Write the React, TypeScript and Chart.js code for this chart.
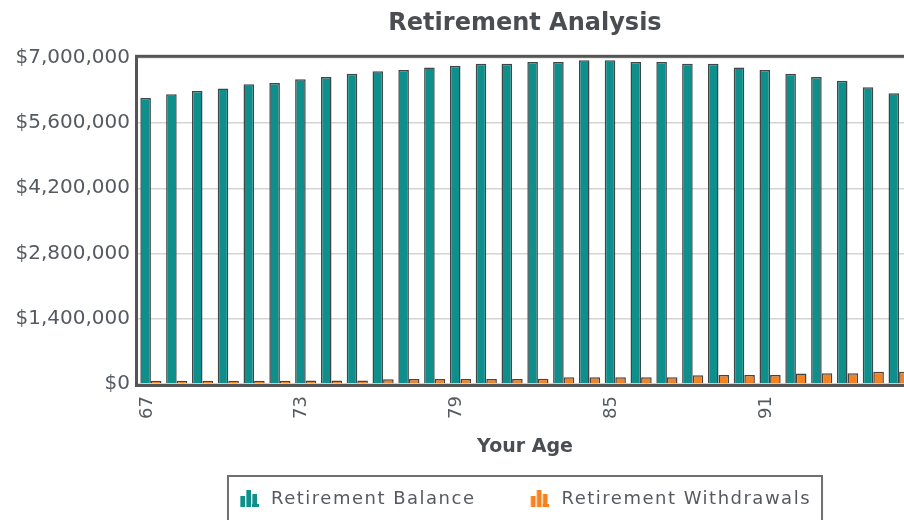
import React, { useEffect, useRef } from "react";
import { Chart, registerables } from "chart.js";

Chart.register(...registerables);

const ages: number[] = [67, 68, 69, 70, 71, 72, 73, 74, 75, 76, 77, 78, 79, 80, 81, 82, 83, 84, 85, 86, 87, 88, 89, 90, 91, 92, 93, 94, 95, 96];

const retirementBalance: number[] = [
  6140000, 6220000, 6290000, 6340000, 6430000, 6460000, 6540000, 6590000, 6660000, 6710000,
  6740000, 6790000, 6830000, 6870000, 6870000, 6910000, 6910000, 6950000, 6950000, 6910000,
  6910000, 6870000, 6870000, 6790000, 6740000, 6660000, 6590000, 6510000, 6370000, 6240000,
];

const retirementWithdrawals: number[] = [
  70000, 70000, 71000, 71000, 72000, 72000, 73000, 73000, 74000, 104000,
  105000, 106000, 107000, 108000, 109000, 110000, 143000, 144000, 145000, 146000,
  147000, 190000, 191000, 192000, 193000, 228000, 229000, 230000, 262000, 264000,
];

const yTicks: number[] = [0, 1400000, 2800000, 4200000, 5600000, 7000000];

const seriesNames: string[] = ["Retirement Balance", "Retirement Withdrawals"];
const seriesColors: string[] = ["#0e8f8c", "#f5821f"];

const TEXT_FONT = "'DejaVu Sans', Verdana, sans-serif";

function makeIcon(color: string): HTMLCanvasElement {
  const c = document.createElement("canvas");
  c.width = 20;
  c.height = 20;
  const g = c.getContext("2d")!;
  g.fillStyle = color;
  g.fillRect(1, 8, 5, 11);
  g.fillRect(7, 2, 5, 17);
  g.fillRect(13, 6, 5, 13);
  g.fillRect(13, 16, 7, 3);
  g.fillStyle = "rgba(255,255,255,0.35)";
  g.fillRect(1, 8, 1, 11);
  g.fillRect(7, 2, 1, 17);
  g.fillRect(13, 6, 1, 10);
  return c;
}

const frameLegendPlugin = {
  id: "frameLegend",
  afterDatasetsDraw(chart: any) {
    const { ctx, chartArea } = chart;
    ctx.save();
    ctx.strokeStyle = "#555555";
    ctx.lineWidth = 3;
    ctx.strokeRect(chartArea.left - 1.5, chartArea.top - 1.5, chartArea.right - chartArea.left + 3, chartArea.bottom - chartArea.top + 3);
    ctx.restore();
  },
  afterDraw(chart: any) {
    const { ctx } = chart;
    ctx.save();
    ctx.letterSpacing = "1.5px";
    ctx.font = `18px ${TEXT_FONT}`;
    const iconW = 20;
    const gapIcon = 12;
    const gapItems = 54;
    const widths = seriesNames.map((n) => ctx.measureText(n).width);
    const total = widths.reduce((a, w) => a + iconW + gapIcon + w, 0) + gapItems * (seriesNames.length - 1);
    const cx = chart.width / 2;
    const padX = 11;
    const boxLeft = cx - total / 2 - padX;
    const boxTop = 476;
    ctx.strokeStyle = "#6f6f6f";
    ctx.lineWidth = 2;
    ctx.strokeRect(boxLeft, boxTop, total + padX * 2, 48);
    let x = cx - total / 2;
    const cy = 498;
    seriesNames.forEach((name, i) => {
      ctx.drawImage(makeIcon(seriesColors[i]), x, cy - 10);
      x += iconW + gapIcon;
      ctx.fillStyle = "#555a60";
      ctx.textAlign = "left";
      ctx.textBaseline = "middle";
      ctx.fillText(name, x, cy + 1);
      x += widths[i] + gapItems;
    });
    ctx.restore();
  },
};

export default function App() {
  const canvasRef = useRef<HTMLCanvasElement | null>(null);

  useEffect(() => {
    const canvas = canvasRef.current;
    if (!canvas) return;
    const chart = new Chart(canvas, {
      type: "bar",
      data: {
        labels: ages.map(String),
        datasets: [
          {
            label: seriesNames[0],
            data: retirementBalance,
            backgroundColor: seriesColors[0],
            borderColor: "#3f4647",
            borderWidth: 1.5,
            categoryPercentage: 0.82,
            barPercentage: 1.0,
          },
          {
            label: seriesNames[1],
            data: retirementWithdrawals,
            backgroundColor: seriesColors[1],
            borderColor: "#4a4440",
            borderWidth: 1.5,
            categoryPercentage: 0.82,
            barPercentage: 1.0,
          },
        ],
      },
      options: {
        responsive: false,
        animation: false,
        devicePixelRatio: 1,
        layout: { padding: { left: 0, right: 0, top: 0, bottom: 44 } },
        plugins: {
          legend: { display: false },
          tooltip: { enabled: false },
          title: {
            display: true,
            text: "Retirement Analysis",
            color: "#4a4d52",
            font: { family: TEXT_FONT, size: 24, weight: "bold" },
            padding: { top: 9, bottom: 20 },
          },
        },
        scales: {
          x: {
            grid: { display: false, drawTicks: false },
            border: { display: false },
            ticks: {
              autoSkip: false,
              minRotation: 90,
              maxRotation: 90,
              padding: 12,
              labelOffset: -4,
              color: "#555a60",
              font: { family: TEXT_FONT, size: 18 },
              callback: (_v: any, i: number) => (i % 6 === 0 ? String(ages[i]) : ""),
            },
            title: {
              display: true,
              text: "Your Age",
              color: "#4a4d52",
              font: { family: TEXT_FONT, size: 19, weight: "bold" },
              padding: { top: 0, bottom: 18 },
            },
            afterFit: (s: any) => {
              s.height = 92;
            },
          },
          y: {
            min: 0,
            max: 7000000,
            afterBuildTicks: (s: any) => {
              s.ticks = yTicks.map((v) => ({ value: v }));
            },
            grid: { color: "#d4d4d4", lineWidth: 1.5, drawTicks: false },
            border: { display: false },
            ticks: {
              padding: 8,
              color: "#555a60",
              font: { family: TEXT_FONT, size: 20 },
              callback: (v: any) => "$" + Number(v).toLocaleString("en-US"),
            },
            afterFit: (s: any) => {
              s.width = 138;
            },
          },
          yRight: {
            type: "linear",
            position: "right",
            display: true,
            grid: { display: false, drawTicks: false },
            border: { display: false },
            ticks: { display: false },
            afterFit: (s: any) => {
              s.width = 138;
            },
          },
        },
      },
      plugins: [frameLegendPlugin],
    });
    return () => chart.destroy();
  }, []);

  return (
    <div style={{ position: "absolute", left: 0, top: 0, width: 904, height: 520, overflow: "hidden", background: "#ffffff" }}>
      <canvas ref={canvasRef} width={1050} height={520} style={{ width: 1050, height: 520, display: "block" }} />
    </div>
  );
}
